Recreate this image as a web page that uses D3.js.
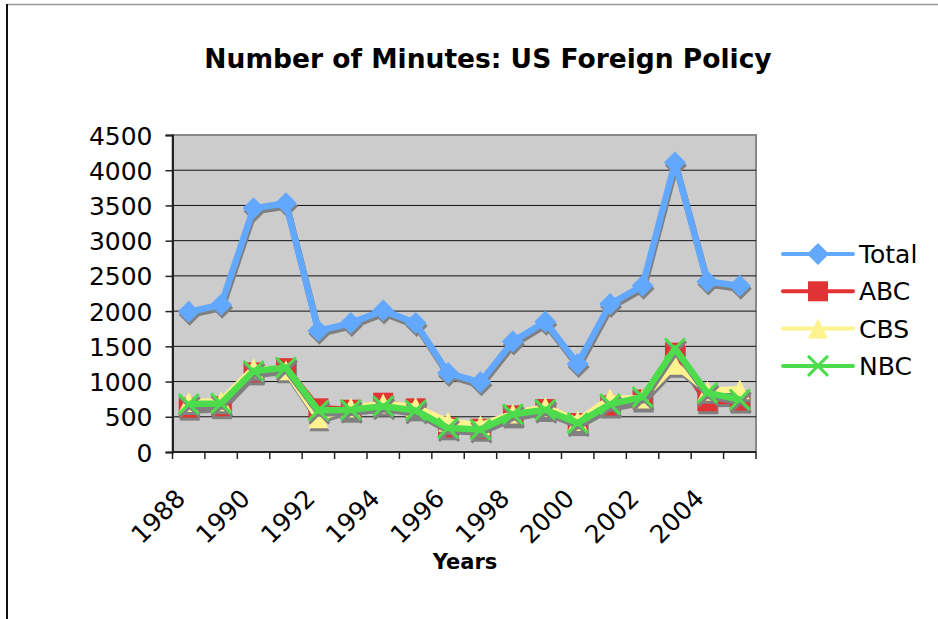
<!DOCTYPE html>
<html lang="en">
  <head>
    <meta charset="UTF-8" />
    <title>Number of Minutes: US Foreign Policy</title>
    <script src="https://cdn.jsdelivr.net/npm/d3@7"></script>
    <style>
      body { margin: 0; background: #fff; }
      svg { display: block; font-family: "DejaVu Sans", Verdana, sans-serif; }
    </style>
  </head>
  <body>
    <svg width="938" height="619"></svg>

    <script>
      var years = [1988, 1989, 1990, 1991, 1992, 1993, 1994, 1995, 1996,
                   1997, 1998, 1999, 2000, 2001, 2002, 2003, 2004, 2005];
      var labelYears = [1988, 1990, 1992, 1994, 1996, 1998, 2000, 2002, 2004];
      var yTicks = [0, 500, 1000, 1500, 2000, 2500, 3000, 3500, 4000, 4500];

      var total = [1990, 2090, 3460, 3530, 1720, 1830, 2010, 1830, 1120,
                   990, 1570, 1850, 1250, 2100, 2360, 4110, 2420, 2360];
      var abc = [630, 650, 1130, 1190, 620, 600, 700, 620, 350,
                 330, 520, 610, 410, 660, 745, 1410, 720, 730];
      var cbs = [710, 720, 1190, 1160, 480, 630, 690, 640, 430,
                 380, 545, 640, 440, 760, 760, 1240, 870, 890];
      var nbc = [680, 690, 1150, 1200, 590, 600, 650, 590, 340,
                 320, 535, 600, 410, 680, 780, 1470, 840, 745];

      var series = [
        { name: "Total", values: total, color: "#62a8ff", marker: "diamond" },
        { name: "ABC", values: abc, color: "#e03333", marker: "square" },
        { name: "CBS", values: cbs, color: "#fff38f", marker: "triangle" },
        { name: "NBC", values: nbc, color: "#4cdc4c", marker: "cross" },
      ];

      var svg = d3.select("svg"),
        plotLeft = 172.5, plotRight = 756, plotTop = 135, plotBottom = 452;

      var x = d3.scaleBand().domain(years).range([plotLeft, plotRight]),
        y = d3.scaleLinear().domain([0, 4500]).range([plotBottom, plotTop]);

      // chart area border (only the left and top edges show)
      svg.append("line").attr("x1", 7).attr("x2", 938).attr("y1", 4.5).attr("y2", 4.5)
        .attr("stroke", "#999").attr("stroke-width", 1.5);
      svg.append("line").attr("x1", 7).attr("x2", 7).attr("y1", 4).attr("y2", 619)
        .attr("stroke", "#111").attr("stroke-width", 2);

      svg.append("text")
        .attr("x", 488).attr("y", 68)
        .attr("text-anchor", "middle")
        .attr("font-size", 26.5).attr("font-weight", "bold")
        .text("Number of Minutes: US Foreign Policy");

      // plot area
      svg.append("rect")
        .attr("x", plotLeft).attr("y", plotTop)
        .attr("width", plotRight - plotLeft).attr("height", plotBottom - plotTop)
        .attr("fill", "#cccccc")
        .attr("stroke", "#888").attr("stroke-width", 2);

      svg.append("g")
        .selectAll("line")
        .data(yTicks.slice(1, -1))
        .enter()
        .append("line")
        .attr("x1", plotLeft).attr("x2", plotRight)
        .attr("y1", function (d) { return y(d); })
        .attr("y2", function (d) { return y(d); })
        .attr("stroke", "#111").attr("stroke-width", 1);

      var yAxis = svg.append("g")
        .attr("transform", "translate(" + plotLeft + ",0)")
        .call(d3.axisLeft(y).tickValues(yTicks).tickFormat(d3.format("d"))
          .tickSize(7).tickPadding(13));
      yAxis.select(".domain").attr("stroke", "#222").attr("stroke-width", 2);
      yAxis.selectAll(".tick line").attr("stroke", "#222").attr("stroke-width", 1.5);
      yAxis.selectAll("text")
        .attr("font-size", 25).attr("font-family", "DejaVu Sans, sans-serif")
        .attr("fill", "#000").attr("dy", "0.36em");

      // x axis: ticks between categories, labels on every other year
      var xAxis = svg.append("g");
      xAxis.append("line")
        .attr("x1", plotLeft).attr("x2", plotRight)
        .attr("y1", plotBottom).attr("y2", plotBottom)
        .attr("stroke", "#222").attr("stroke-width", 2);
      xAxis.selectAll(".xt")
        .data(years.concat(["end"]))
        .enter()
        .append("line")
        .attr("class", "xt")
        .attr("x1", function (d) { return d === "end" ? plotRight : x(d); })
        .attr("x2", function (d) { return d === "end" ? plotRight : x(d); })
        .attr("y1", plotBottom).attr("y2", plotBottom + 7)
        .attr("stroke", "#222").attr("stroke-width", 1.5);
      xAxis.selectAll(".xl")
        .data(labelYears)
        .enter()
        .append("text")
        .attr("class", "xl")
        .attr("text-anchor", "end")
        .attr("font-size", 25)
        .attr("transform", function (d) {
          return "translate(" + (x(d) + x.bandwidth() / 2 - 2) + ",500) rotate(-45)";
        })
        .text(function (d) { return d; });

      svg.append("text")
        .attr("x", 465).attr("y", 569)
        .attr("text-anchor", "middle")
        .attr("font-size", 21).attr("font-weight", "bold")
        .text("Years");

      function markerPath(type, r) {
        if (type === "diamond")
          return "M0," + -r + "L" + r + ",0L0," + r + "L" + -r + ",0Z";
        if (type === "square")
          return "M" + -r + "," + -r + "H" + r + "V" + r + "H" + -r + "Z";
        if (type === "triangle")
          return "M0," + -r + "L" + r + "," + r + "H" + -r + "Z";
        return "M" + -r + "," + -r + "L" + r + "," + r + "M" + r + "," + -r + "L" + -r + "," + r;
      }

      function drawMarkers(g, s, cx, cy, color) {
        var p = g.append("path")
          .attr("transform", "translate(" + cx + "," + cy + ")");
        if (s.marker === "cross") {
          p.attr("d", markerPath("cross", 10)).attr("fill", "none")
            .attr("stroke", color).attr("stroke-width", 3);
        } else {
          var r = s.marker === "diamond" ? 11 : 10;
          p.attr("d", markerPath(s.marker, r)).attr("fill", color);
        }
      }

      var line = d3.line()
        .x(function (d, i) { return x(years[i]) + x.bandwidth() / 2; })
        .y(function (d) { return y(d); });

      series.forEach(function (s) {
        var g = svg.append("g");
        var sh = g.append("g").attr("transform", "translate(1,3)");
        sh.append("path")
          .attr("d", line(s.values))
          .attr("fill", "none").attr("stroke", "#808080")
          .attr("stroke-width", 6.5).attr("stroke-linejoin", "round");
        s.values.forEach(function (v, i) {
          drawMarkers(sh, s, x(years[i]) + x.bandwidth() / 2, y(v), "#808080");
        });
        g.append("path")
          .attr("d", line(s.values))
          .attr("fill", "none").attr("stroke", s.color)
          .attr("stroke-width", 6.5).attr("stroke-linejoin", "round");
        s.values.forEach(function (v, i) {
          drawMarkers(g, s, x(years[i]) + x.bandwidth() / 2, y(v), s.color);
        });
      });

      // legend
      var legend = svg.append("g");
      series.forEach(function (s, i) {
        var ly = 254 + i * 37.3;
        legend.append("line")
          .attr("x1", 783).attr("x2", 853).attr("y1", ly).attr("y2", ly)
          .attr("stroke", s.color).attr("stroke-width", 4)
          .attr("stroke-linecap", "round");
        drawMarkers(legend, s, 818, ly, s.color);
        legend.append("text")
          .attr("x", 859).attr("y", ly).attr("dy", "0.36em")
          .attr("font-size", 25)
          .text(s.name);
      });
    </script>
  </body>
</html>
